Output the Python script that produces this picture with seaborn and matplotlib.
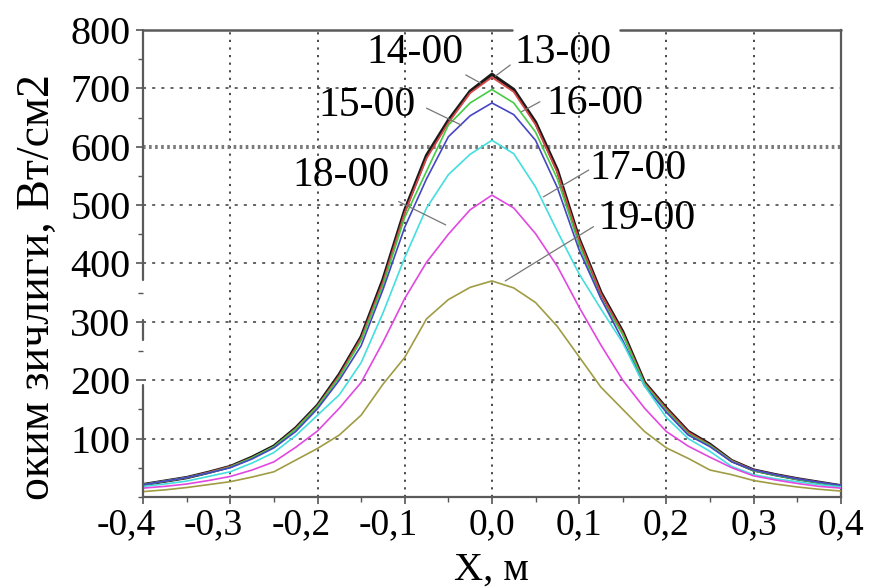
import numpy as np
import pandas as pd
import matplotlib
matplotlib.use("Agg")
import matplotlib.pyplot as plt
import seaborn as sns
from matplotlib.ticker import MultipleLocator
from matplotlib.transforms import ScaledTranslation

# ---------------- data ----------------
x_m = [-0.4, -0.375, -0.35, -0.325, -0.3, -0.275, -0.25, -0.225, -0.2, -0.175,
       -0.15, -0.125, -0.1, -0.075, -0.05, -0.025, 0.0, 0.025, 0.05, 0.075,
       0.1, 0.125, 0.15, 0.175, 0.2, 0.225, 0.25, 0.275, 0.3, 0.325, 0.35,
       0.375, 0.4]

v_1300 = [21, 27, 33, 42, 52, 68, 87, 118, 157, 210, 274, 372, 491, 585, 645, 695,
          724, 698, 642, 560, 442, 350, 283, 196, 152, 112, 90, 62, 46, 38, 31, 25, 19]
v_1400 = [21, 27, 33, 42, 52, 67, 86, 117, 156, 208, 272, 368, 487, 580, 641, 692,
          719, 694, 638, 556, 440, 348, 281, 195, 151, 111, 89, 62, 46, 38, 31, 25, 19]
v_1500 = [21, 27, 33, 41, 51, 67, 86, 116, 155, 205, 268, 362, 479, 558, 637, 675,
          698, 675, 625, 545, 432, 340, 278, 193, 148, 108, 88, 61, 45, 37, 30, 24, 19]
v_1600 = [21, 27, 33, 41, 50, 65, 84, 112, 151, 200, 259, 355, 462, 545, 617, 653,
          675, 655, 611, 530, 423, 340, 268, 190, 145, 106, 86, 60, 46, 38, 31, 25, 20]
v_1700 = [18, 22, 27, 35, 43, 58, 76, 105, 140, 175, 230, 315, 410, 495, 552, 587,
          611, 588, 531, 455, 382, 322, 264, 190, 136, 100, 78, 52, 38, 31, 26, 21, 17]
v_1800 = [15, 18, 22, 28, 35, 46, 60, 85, 113, 152, 196, 265, 340, 402, 450, 492,
          517, 495, 451, 395, 325, 260, 200, 152, 112, 87, 68, 50, 36, 29, 23, 18, 15]
v_1900 = [9, 12, 16, 21, 26, 34, 43, 63, 83, 106, 140, 193, 239, 305, 338, 359,
          370, 358, 333, 292, 240, 188, 150, 112, 84, 66, 46, 38, 28, 22, 17, 13, 10]

series_names = ["13-00", "14-00", "15-00", "16-00", "17-00", "18-00", "19-00"]
series_values = [v_1300, v_1400, v_1500, v_1600, v_1700, v_1800, v_1900]

x_tick_values = [-0.4, -0.3, -0.2, -0.1, 0.0, 0.1, 0.2, 0.3, 0.4]
x_tick_labels = ["-0,4", "-0,3", "-0,2", "-0,1", "0,0", "0,1", "0,2", "0,3", "0,4"]
y_tick_values = [100, 200, 300, 400, 500, 600, 700, 800]
y_tick_labels = ["100", "200", "300", "400", "500", "600", "700", "800"]

x_label = "X, м"
y_label = "оким зичлиги, Вт/см2"

# ---------------- style ----------------
colors = {"13-00": "#1a1a1a", "14-00": "#d84848", "15-00": "#44cc44",
          "16-00": "#4646c4", "17-00": "#44dede", "18-00": "#e048e0",
          "19-00": "#a09c44"}
widths = {"13-00": 2.4, "14-00": 1.3, "15-00": 1.2, "16-00": 1.2,
          "17-00": 1.2, "18-00": 1.2, "19-00": 1.2}

# label text centre and leader line (text anchor -> curve point), data coords
label_layout = {
    "14-00": ((-0.088, 761), (-0.030, 723), (-0.013, 709)),
    "13-00": ((0.081, 761), (0.021, 740), (0.004, 721)),
    "15-00": ((-0.1435, 670), (-0.075, 666), (-0.035, 637)),
    "16-00": ((0.118, 673), (0.055, 677), (0.034, 660)),
    "18-00": ((-0.173, 550), (-0.107, 506), (-0.053, 466)),
    "17-00": ((0.168, 562), (0.111, 560), (0.059, 514)),
    "19-00": ((0.178, 476), (0.1165, 463), (0.0153, 370)),
}

sns.set_style("white")
plt.rcParams["font.family"] = ["Liberation Serif", "DejaVu Serif"]
plt.rcParams["text.color"] = "black"
plt.rcParams["axes.labelcolor"] = "black"

df = pd.concat(
    [pd.DataFrame({"x": x_m, "value": vals, "time": name})
     for name, vals in zip(series_names, series_values)],
    ignore_index=True)

fig = plt.figure(figsize=(8.73, 5.88), dpi=100)
ax = fig.add_axes([0.164, 0.155, 0.799, 0.794])

# grid
grid_col = "#3a3a3a"
for xv in x_tick_values[1:-1]:
    ax.axvline(xv, color=grid_col, lw=1.3, ls=(0, (1.2, 3.0)), zorder=0)
for yv in y_tick_values[:-1]:
    if yv == 600:
        ax.axhline(yv, color="#7a7a7a", lw=2.9, ls=(0, (0.65, 0.85)), zorder=0)
    else:
        ax.axhline(yv, color=grid_col, lw=1.1, ls=(0, (2.0, 4.0)), zorder=0)

for name in series_names:
    sub = df[df["time"] == name]
    sns.lineplot(data=sub, x="x", y="value", ax=ax, color=colors[name],
                 lw=widths[name], legend=False, zorder=3 if name != "13-00" else 2,
                 estimator=None, sort=False)

ax.set_xlim(-0.4, 0.4)
ax.set_ylim(0, 800)
ax.set_xticks(x_tick_values)
ax.set_xticklabels(x_tick_labels)
ax.set_yticks(y_tick_values)
ax.set_yticklabels(y_tick_labels)
ax.xaxis.set_minor_locator(MultipleLocator(0.05))
ax.yaxis.set_minor_locator(MultipleLocator(50))
ax.tick_params(axis="both", which="major", direction="out", length=5, width=1.2,
               color="#555555", labelcolor="black", pad=3, bottom=True, left=True)
ax.tick_params(axis="both", which="minor", direction="out", length=3.5, width=1.0,
               color="#555555", bottom=True, left=True)
ax.tick_params(axis="x", which="major", labelsize=27, pad=3)
ax.tick_params(axis="y", which="major", labelsize=29, pad=4)

for lab in ax.get_xticklabels():
    if lab.get_text().startswith("-"):
        lab.set_transform(lab.get_transform() +
                          ScaledTranslation(-12 / 72, 0, fig.dpi_scale_trans))

ax.set_xlabel(x_label, fontsize=29)
ax.xaxis.set_label_coords(0.5, -0.118)
ax.set_ylabel(y_label, fontsize=33)
ax.yaxis.set_label_coords(-0.12, 0.45)

# spines: grey, with gaps as in the reference
spine_col = "#5a5a5a"
for s in ["bottom", "right"]:
    ax.spines[s].set_color(spine_col)
    ax.spines[s].set_linewidth(1.6)
ax.spines["top"].set_visible(False)
ax.spines["left"].set_visible(False)
for (a, b) in [(0.0, 0.529), (0.683, 1.0)]:
    ax.plot([a, b], [1, 1], transform=ax.transAxes, color=spine_col, lw=1.8,
            clip_on=False, zorder=5)
for (a, b) in [(0.0, 0.24), (0.336, 0.379), (0.4647, 1.0)]:
    ax.plot([0, 0], [a, b], transform=ax.transAxes, color=spine_col, lw=1.6,
            clip_on=False, zorder=5)

# labels for curves with leader lines
for name in series_names:
    (tx, ty), (lx0, ly0), (lx1, ly1) = label_layout[name]
    ax.plot([lx0, lx1], [ly0, ly1], color="#777777", lw=0.9, zorder=4)
    ax.text(tx, ty, name, fontsize=30, ha="center", va="center", zorder=6)

fig.savefig("out.png", dpi=100)
